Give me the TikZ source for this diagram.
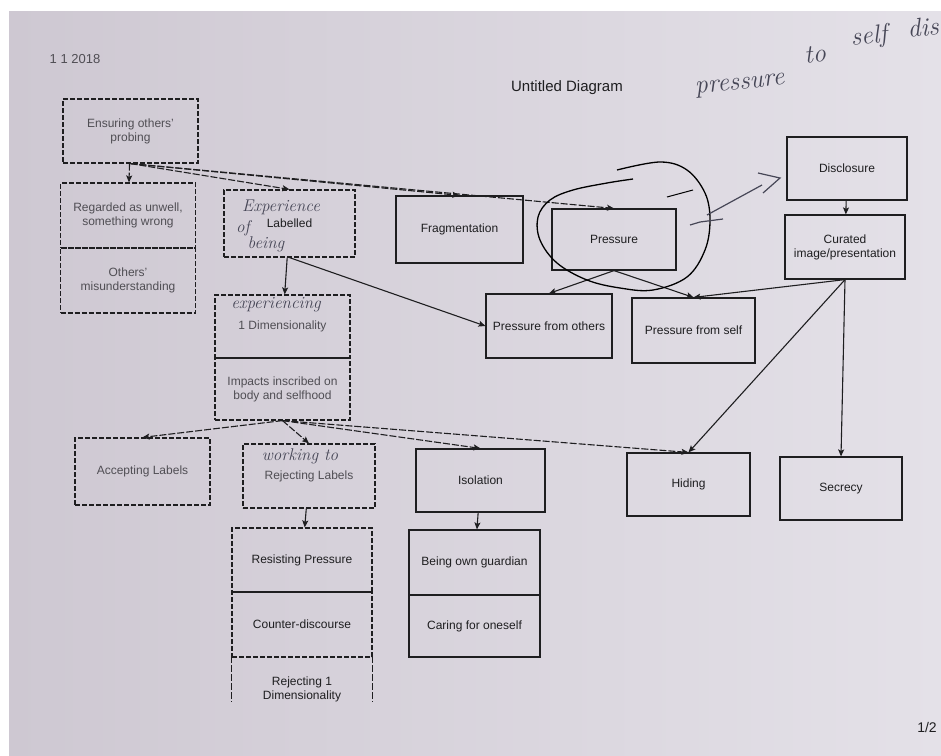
\documentclass[tikz,border=0pt]{standalone}
\usepackage{fontspec}
\setsansfont{Liberation Sans}
\usetikzlibrary{arrows.meta}
\definecolor{paperL}{RGB}{206,200,210}
\definecolor{paperR}{RGB}{228,225,232}
\definecolor{ink}{RGB}{30,30,32}
\definecolor{faded}{RGB}{80,78,84}
\definecolor{pencil}{RGB}{70,70,86}
\definecolor{loop}{RGB}{105,102,110}

\begin{document}
\begin{tikzpicture}[x=1pt,y=-1pt,
    >={Stealth[length=7pt,width=6pt,inset=1.5pt]},
    box/.style={draw=ink,line width=1.2pt,align=center,inner sep=2pt,
      font=\sffamily\fontsize{12}{14}\selectfont,text=ink},
    dbox/.style={box,dash pattern=on 5pt off 2pt,text=faded},
    dline/.style={draw=ink,line width=1.1pt,dash pattern=on 7pt off 2pt},
    sline/.style={draw=ink,line width=1.1pt},
    hand/.style={text=pencil,font=\rmfamily\itshape\fontsize{17}{19}\selectfont},
    bighand/.style={hand,rotate=6,inner sep=0pt,font=\rmfamily\itshape\fontsize{26}{28}\selectfont}]
    \useasboundingbox (0,0) rectangle (941,755);
    \fill[white] (0,0) rectangle (941,755);
    \shade[left color=paperL,right color=paperR] (9,11) rectangle (941,755);

    \node[text=faded,font=\sffamily\fontsize{13}{15}\selectfont] (date) at (75,59) {1 1 2018};
    \node[text=ink,font=\sffamily\fontsize{15}{17}\selectfont] (title) at (567,88) {Untitled Diagram};
    \node[text=ink,font=\sffamily\fontsize{14}{16}\selectfont] (page) at (927,727) {1/2};

    \node[dbox,minimum width=135,minimum height=64] (ensuring) at (130.5,131) {Ensuring others'\\probing};
    \node[dbox,minimum width=135,minimum height=65] (regarded) at (128,215.5) {Regarded as unwell,\\something wrong};
    \node[dbox,minimum width=135,minimum height=65] (others) at (128,280.5) {Others'\\misunderstanding};
    \node[dbox,minimum width=131,minimum height=67,text=ink] (labelled) at (289.5,223.5) {Labelled};
    \node[box,minimum width=127,minimum height=67] (frag) at (459.5,229.5) {Fragmentation};
    \node[box,minimum width=124,minimum height=61] (pressure) at (614,239.5) {Pressure};
    \node[box,minimum width=120,minimum height=63] (disclosure) at (847,168.5) {Disclosure};
    \node[box,minimum width=120,minimum height=64] (curated) at (845,247) {Curated\\image/presentation};
    \node[box,minimum width=126,minimum height=64] (pothers) at (549,326) {Pressure from others};
    \node[box,minimum width=123,minimum height=65] (pself) at (693.5,330.5) {Pressure from self};
    \node[dbox,minimum width=135,minimum height=63] (onedim) at (282.5,326.5) {1 Dimensionality};
    \node[dbox,minimum width=135,minimum height=62] (impacts) at (282.5,389) {Impacts inscribed on\\body and selfhood};
    \node[dbox,minimum width=135,minimum height=67] (accepting) at (142.5,471.5) {Accepting Labels};
    \node[dbox,minimum width=132,minimum height=64] (rejecting) at (309,476) {Rejecting Labels};
    \node[box,minimum width=129,minimum height=63] (isolation) at (480.5,480.5) {Isolation};
    \node[box,minimum width=123,minimum height=63] (hiding) at (688.5,484.5) {Hiding};
    \node[box,minimum width=122,minimum height=63] (secrecy) at (841,488.5) {Secrecy};
    \node[dbox,minimum width=140,minimum height=64,text=ink] (resisting) at (302,560) {Resisting Pressure};
    \node[dbox,minimum width=140,minimum height=65,text=ink] (counter) at (302,624.5) {Counter-discourse};
    \node[box,draw=none,minimum width=140,minimum height=64] (rejdim) at (302,689) {Rejecting 1\\Dimensionality};
    \draw[dline] (rejdim.north west) -- ++(0,46) (rejdim.north east) -- ++(0,46);
    \node[box,minimum width=131,minimum height=65] (guardian) at (474.5,562.5) {Being own guardian};
    \node[box,minimum width=131,minimum height=62] (caring) at (474.5,626) {Caring for oneself};

    \draw[dline,->] (ensuring) -- (regarded);
    \draw[dline,->] (ensuring.south) -- (labelled.north);
    \draw[dline,->] (ensuring.south) -- (frag.north);
    \draw[dline,->] (ensuring.south) -- (pressure.north);
    \draw[sline,->] (labelled) -- (onedim);
    \draw[sline,->] (labelled.south) -- (pothers.west);
    \draw[sline,->] (pressure.south) -- (pothers.north);
    \draw[sline,->] (pressure.south) -- (pself.north);
    \draw[sline,->] (disclosure) -- (curated);
    \draw[sline,->] (curated.south) -- (pself.north);
    \draw[sline,->] (curated.south) -- (hiding.north);
    \draw[sline,->] (curated.south) -- (secrecy.north);
    \draw[dline,->] (impacts.south) -- (accepting.north);
    \draw[dline,->] (impacts.south) -- (rejecting.north);
    \draw[dline,->] (impacts.south) -- (isolation.north);
    \draw[dline,->] (impacts.south) -- (hiding.north);
    \draw[sline,->] (rejecting) -- (resisting);
    \draw[sline,->] (isolation) -- (guardian);

    \node[hand] (experience) at (281,207) {Experience};
    \node[hand] (of) at (243,228) {of};
    \node[hand] (being) at (266,244) {being};
    \node[hand] (experiencing) at (276,305) {experiencing};
    \node[hand] (working) at (300,456) {working to};
    \node[bighand] (notea) at (740,86) {pressure};
    \node[bighand] (noteb) at (815,54) {to};
    \node[bighand] (notec) at (869,37) {self};
    \node[bighand] (noted) at (923,27) {dis};

    \draw[loop,line width=1.3pt] plot[smooth,tension=0.6] coordinates {(617,170) (660,162) (687,170) (705,193) (710,220) (705,250) (687,277) (653,290) (620,288) (587,280) (557,263) (540,240) (538,217) (550,200) (573,190) (607,183) (633,179)};
    \draw[loop,line width=1pt] (667,197) -- (693,190);
    \draw[pencil,line width=1.2pt] (723,219) -- (700,222) -- (690,225) (707,215) -- (762,185)
      (758,173) -- (780,178) -- (763,193);
\end{tikzpicture}
\end{document}
